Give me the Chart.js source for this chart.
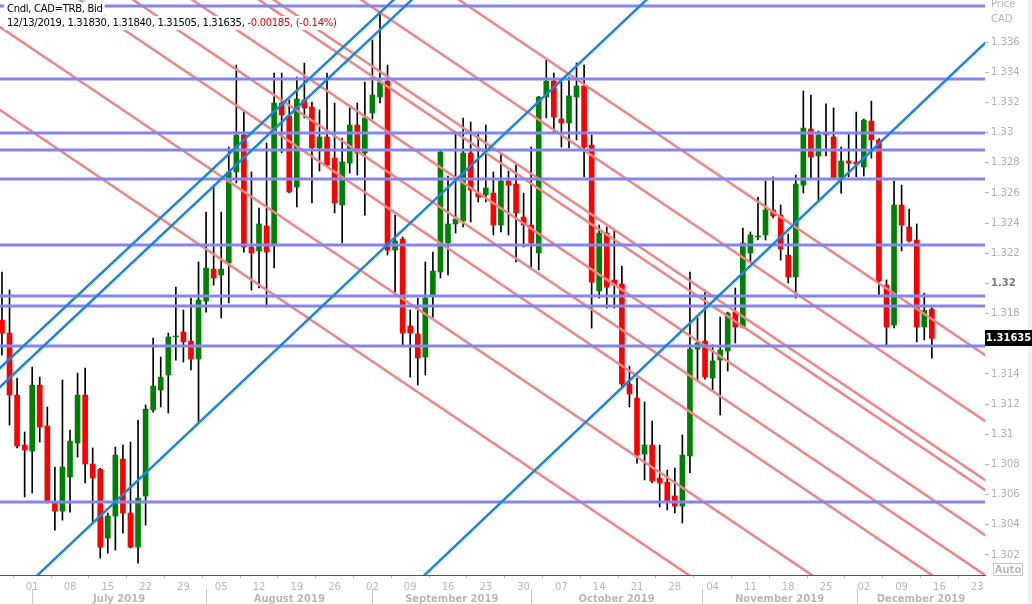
<!DOCTYPE html>
<html>
<head>
<meta charset="utf-8">
<script src="https://cdn.jsdelivr.net/npm/chart.js@4.4.1/dist/chart.umd.min.js"></script>
<style>
  html, body { margin: 0; padding: 0; background: #fff; }
  canvas { display: block; }
</style>
</head>
<body>
<canvas id="chart" width="1032" height="604"></canvas>
<script>
// daily candles, Jun 25 2019 .. Dec 13 2019 (trading days only, index 0 = Jun 25)
const opens = [
  1.31757, 1.31671, 1.31260, 1.30929, 1.30889, 1.31326, 1.31055, 1.30544, 1.30491, 1.30717,
  1.30942, 1.31260, 1.30803, 1.30769, 1.30312, 1.30458, 1.30836, 1.30478, 1.30252, 1.30591,
  1.31161, 1.31293, 1.31393, 1.31645, 1.31678, 1.31618, 1.31499, 1.31883, 1.32095, 1.32056,
  1.32135, 1.32739, 1.32984, 1.32241, 1.32215, 1.32381, 1.32261, 1.33196, 1.33110, 1.32639,
  1.33216, 1.33170, 1.32898, 1.32971, 1.32831, 1.32520, 1.32798, 1.33050, 1.32865, 1.33130,
  1.33236, 1.33342, 1.32221, 1.32294, 1.31718, 1.31665, 1.31512, 1.31923, 1.32076, 1.32268,
  1.32394, 1.32414, 1.32865, 1.32599, 1.32586, 1.32599, 1.32387, 1.32679, 1.32659, 1.32440,
  1.32387, 1.32202, 1.33236, 1.33342, 1.33090, 1.33064, 1.33236, 1.33309, 1.32918, 1.31950,
  1.32334, 1.32023, 1.31996, 1.31333, 1.31240, 1.30869, 1.30929, 1.30710, 1.30683, 1.30591,
  1.30524, 1.30856, 1.31565, 1.31618, 1.31373, 1.31492, 1.31552, 1.31810, 1.31711, 1.32202,
  1.32308, 1.32321, 1.32487, 1.32453, 1.32188, 1.32043, 1.32652, 1.33024, 1.32845, 1.32997,
  1.32971, 1.32699, 1.32812, 1.32805, 1.32772, 1.33077, 1.32951, 1.31989, 1.31724, 1.32520,
  1.32374, 1.32288, 1.31711, 1.31830
];
const highs = [
  1.32076, 1.31956, 1.31373, 1.31015, 1.31446, 1.31379, 1.31181, 1.30783, 1.31360, 1.31028,
  1.31406, 1.31439, 1.30909, 1.30775, 1.30478, 1.30915, 1.30929, 1.30948, 1.31094, 1.31194,
  1.31638, 1.31512, 1.31671, 1.31976, 1.31824, 1.31903, 1.32142, 1.32473, 1.32652, 1.32473,
  1.32904, 1.33448, 1.33136, 1.32739, 1.32500, 1.32931, 1.33395, 1.33395, 1.33216, 1.33368,
  1.33461, 1.33203, 1.33150, 1.33395, 1.33196, 1.32964, 1.33163, 1.33196, 1.33335, 1.33614,
  1.33783, 1.33448, 1.32453, 1.32308, 1.31824, 1.31903, 1.32142, 1.32208, 1.32880, 1.32712,
  1.32997, 1.33097, 1.33070, 1.33004, 1.33050, 1.32739, 1.32865, 1.32745, 1.32785, 1.32599,
  1.32904, 1.33240, 1.33481, 1.33395, 1.33335, 1.33368, 1.33461, 1.33448, 1.32984, 1.32387,
  1.32374, 1.32354, 1.32115, 1.31452, 1.31373, 1.31214, 1.31088, 1.30929, 1.30763, 1.30776,
  1.30995, 1.32076, 1.31771, 1.31956, 1.31592, 1.31777, 1.31810, 1.31970, 1.32367, 1.32341,
  1.32573, 1.32679, 1.32706, 1.32520, 1.32328, 1.32719, 1.33276, 1.33249, 1.33010, 1.33190,
  1.33163, 1.32904, 1.32991, 1.33136, 1.33090, 1.33209, 1.32960, 1.32023, 1.32679, 1.32652,
  1.32493, 1.32394, 1.31936, 1.31840
];
const lows = [
  1.31525, 1.31061, 1.30909, 1.30584, 1.30610, 1.30948, 1.30544, 1.30365, 1.30431, 1.30484,
  1.30849, 1.30677, 1.30412, 1.30179, 1.30212, 1.30232, 1.30345, 1.30246, 1.30146, 1.30398,
  1.31147, 1.31181, 1.31141, 1.31492, 1.31479, 1.31426, 1.31081, 1.31810, 1.31989, 1.31771,
  1.31870, 1.32666, 1.32208, 1.31956, 1.31970, 1.31844, 1.32102, 1.32865, 1.32600, 1.32507,
  1.33097, 1.32533, 1.32745, 1.32780, 1.32467, 1.32268, 1.32732, 1.32719, 1.32453, 1.33090,
  1.33196, 1.32188, 1.31943, 1.31592, 1.31379, 1.31326, 1.31393, 1.31777, 1.32036, 1.32056,
  1.32334, 1.32374, 1.32407, 1.32540, 1.32540, 1.32321, 1.32341, 1.32321, 1.32142, 1.32241,
  1.32109, 1.32089, 1.33097, 1.33004, 1.32904, 1.32898, 1.32951, 1.32706, 1.31704, 1.31903,
  1.31837, 1.31837, 1.31313, 1.31181, 1.30809, 1.30697, 1.30677, 1.30518, 1.30498, 1.30478,
  1.30412, 1.30743, 1.31360, 1.31366, 1.31293, 1.31128, 1.31419, 1.31605, 1.31705, 1.32142,
  1.32288, 1.32288, 1.32434, 1.32155, 1.32003, 1.31903, 1.32599, 1.32699, 1.32553, 1.32845,
  1.32690, 1.32599, 1.32706, 1.32706, 1.32712, 1.32831, 1.31923, 1.31592, 1.31705, 1.32215,
  1.32274, 1.31612, 1.31625, 1.31505
];
const closes = [
  1.31671, 1.31260, 1.30922, 1.30895, 1.31326, 1.31048, 1.30551, 1.30491, 1.30783, 1.30955,
  1.31260, 1.30803, 1.30710, 1.30252, 1.30458, 1.30862, 1.30478, 1.30252, 1.30577, 1.31167,
  1.31320, 1.31379, 1.31645, 1.31650, 1.31612, 1.31499, 1.31890, 1.32102, 1.32036, 1.32095,
  1.32739, 1.32984, 1.32241, 1.32202, 1.32394, 1.32208, 1.33196, 1.33117, 1.32606, 1.33223,
  1.33163, 1.32898, 1.32971, 1.32785, 1.32533, 1.32805, 1.33050, 1.32865, 1.33097, 1.33249,
  1.33335, 1.32221, 1.32281, 1.31671, 1.31671, 1.31506, 1.31903, 1.32082, 1.32871, 1.32394,
  1.32427, 1.32865, 1.32619, 1.32573, 1.32633, 1.32387, 1.32679, 1.32652, 1.32467, 1.32387,
  1.32268, 1.33236, 1.33342, 1.33103, 1.33064, 1.33243, 1.33309, 1.32904, 1.32009, 1.32334,
  1.31976, 1.31989, 1.31333, 1.31267, 1.30862, 1.30929, 1.30690, 1.30677, 1.30558, 1.30524,
  1.30862, 1.31565, 1.31605, 1.31379, 1.31486, 1.31559, 1.31804, 1.31711, 1.32268, 1.32321,
  1.32314, 1.32487, 1.32447, 1.32228, 1.32043, 1.32659, 1.33030, 1.32838, 1.32984, 1.32984,
  1.32699, 1.32812, 1.32798, 1.32792, 1.33083, 1.32951, 1.32016, 1.31711, 1.32520, 1.32387,
  1.32281, 1.31711, 1.31820, 1.31635
];
const lastDate = '12/13/2019';

// x axis: weekly (Monday) ticks and months
const xTickIdx = [4, 9, 14, 19, 24, 29, 34, 39, 44, 49, 54, 59, 64, 69, 74, 79, 84, 89, 94, 99, 104, 109, 114, 119, 124, 129];
const xTickLabels = ['01', '08', '15', '22', '29', '05', '12', '19', '26', '02', '09', '16', '23', '30', '07', '14', '21', '28', '04', '11', '18', '25', '02', '09', '16', '23'];
const monthStart = [4, 27, 49, 70, 92.6, 113.1];
const monthLabels = ['July 2019', 'August 2019', 'September 2019', 'October 2019', 'November 2019', 'December 2019'];

// y axis
const yTicks = [1.302, 1.304, 1.306, 1.308, 1.31, 1.312, 1.314, 1.316, 1.318, 1.32, 1.322, 1.324, 1.326, 1.328, 1.33, 1.332, 1.334, 1.336];
const yMin = 1.30067, yMax = 1.33879;
const xMin = -0.26, xMax = 130.03;

// drawn studies
const hLevels = [1.33839, 1.33355, 1.32997, 1.32884, 1.32692, 1.32255, 1.31917, 1.31850, 1.31585, 1.30551];
const redX = [-1, 131];
const redFrom = [1.33175, 1.33725, 1.34262, 1.34501, 1.34766, 1.35064, 1.35130, 1.35522, 1.35959];
const redTo = [1.28708, 1.29259, 1.29796, 1.30034, 1.30299, 1.30598, 1.30664, 1.31055, 1.31493];
const blueLines = [
  [-1, 1.31405, 60, 1.34264],
  [-1, 1.31279, 60, 1.34153],
  [0, 1.29843, 95, 1.34342],
  [50, 1.29786, 131, 1.33640]
];

const UP = '#008000', DOWN = '#ff0000';
const H_COLOR = '#8585ee', RED_COLOR = '#f08585', BLUE_COLOR = '#1c84e2';
const FONT = '"DejaVu Sans", Verdana, sans-serif';

const datasets = [];
blueLines.forEach(l => {
  datasets.push({
    type: 'line', data: [{x: l[0], y: l[1]}, {x: l[2], y: l[3]}],
    borderColor: BLUE_COLOR, borderWidth: 2.5, pointRadius: 0, clip: 0, order: 0
  });
});
hLevels.forEach(v => {
  datasets.push({
    type: 'line', data: [{x: xMin - 1, y: v}, {x: xMax + 1, y: v}],
    borderColor: H_COLOR, borderWidth: 3, pointRadius: 0, clip: 0, order: 1
  });
});
redFrom.forEach((v, i) => {
  datasets.push({
    type: 'line', data: [{x: redX[0], y: v}, {x: redX[1], y: redTo[i]}],
    borderColor: RED_COLOR, borderWidth: 2.5, pointRadius: 0, clip: 0, order: 2
  });
});
datasets.push({
  type: 'bar',
  data: opens.map((o, i) => ({x: i, y: [o, closes[i]]})),
  backgroundColor: opens.map((o, i) => closes[i] < o ? DOWN : UP),
  barThickness: 5, minBarLength: 1, grouped: false, order: 3
});
datasets.push({
  type: 'bar',
  data: lows.map((l, i) => ({x: i, y: [l, highs[i]]})),
  backgroundColor: '#000',
  barThickness: 1, grouped: false, order: 4
});

const overlay = {
  id: 'overlay',
  beforeDraw(chart) {
    const c = chart.ctx;
    c.save();
    c.fillStyle = '#fff';
    c.fillRect(0, 0, chart.width, chart.height);
    c.fillStyle = '#f0f0f0';
    c.fillRect(1028, 0, 4, chart.height);
    c.restore();
  },
  afterDraw(chart) {
    const c = chart.ctx;
    const xs = chart.scales.x, ys = chart.scales.y;
    const area = chart.chartArea;
    c.save();

    // header
    c.font = '10px ' + FONT;
    c.letterSpacing = '-0.3px';
    c.textBaseline = 'alphabetic';
    c.textAlign = 'left';
    const n = closes.length - 1;
    const chg = closes[n] - closes[n - 1];
    const pct = chg / closes[n - 1] * 100;
    const rows = [
      [['Cndl, CAD=TRB, Bid', '#000']],
      [[lastDate + ', ' + [opens[n], highs[n], lows[n], closes[n]].map(v => v.toFixed(5)).join(', ') + ', ', '#000'],
       [chg.toFixed(5) + ', (' + pct.toFixed(2) + '%)', '#e00000']]
    ];
    rows.forEach((parts, r) => {
      const base = 12 + r * 14;
      let w = 0;
      parts.forEach(p => { w += c.measureText(p[0]).width; });
      c.fillStyle = '#fff';
      c.fillRect(4, base - 10, w + 5, 14);
      let x = 7;
      parts.forEach(p => {
        c.fillStyle = p[1];
        c.fillText(p[0], x, base);
        x += c.measureText(p[0]).width;
      });
    });
    c.letterSpacing = '0px';

    // axis title
    c.fillStyle = '#b4b4b4';
    c.fillText('Price', 991, 7);
    c.fillText('CAD', 991, 22);

    // last price marker
    const py = ys.getPixelForValue(closes[n]);
    c.fillStyle = '#000';
    c.fillRect(area.right, Math.round(py) - 8, 47, 16);
    c.fillStyle = '#fff';
    c.font = 'bold 10px ' + FONT;
    c.textAlign = 'center';
    c.textBaseline = 'middle';
    c.fillText(closes[n].toFixed(5), area.right + 23.5, Math.round(py) + 0.5);

    // auto box
    c.strokeStyle = '#c8c8c8';
    c.lineWidth = 1;
    c.strokeRect(993.5, 563.5, 29, 12);
    c.fillStyle = '#b8b8b8';
    c.fillText('Auto', 1008, 570);

    // months
    const seps = monthStart.map(v => xs.getPixelForValue(v));
    c.strokeStyle = '#c8c8c8';
    seps.forEach(px => {
      c.beginPath();
      c.moveTo(Math.round(px) + 0.5, 589);
      c.lineTo(Math.round(px) + 0.5, 604);
      c.stroke();
    });
    c.fillStyle = '#b8b8b8';
    c.textBaseline = 'alphabetic';
    monthLabels.forEach((m, i) => {
      const a = seps[i], b = i + 1 < seps.length ? seps[i + 1] : area.right;
      c.fillText(m, (a + b) / 2, 602);
    });
    c.restore();
  }
};

new Chart(document.getElementById('chart'), {
  type: 'bar',
  data: { datasets },
  options: {
    responsive: false,
    animation: false,
    events: [],
    layout: { padding: 0, autoPadding: false },
    plugins: { legend: { display: false }, tooltip: { enabled: false } },
    scales: {
      x: {
        type: 'linear', min: xMin, max: xMax, offset: false,
        afterBuildTicks: s => { s.ticks = xTickIdx.map(v => ({value: v})); },
        afterFit: s => { s.height = 29; s.paddingLeft = 0; s.paddingRight = 0; },
        grid: { display: true, drawOnChartArea: false, drawTicks: true, tickLength: 3, color: '#c0c0c0' },
        border: { display: true, color: '#555', width: 1 },
        ticks: {
          autoSkip: false, maxRotation: 0, minRotation: 0, padding: 3,
          color: '#b8b8b8', font: { family: FONT, size: 10 },
          callback: v => xTickLabels[xTickIdx.indexOf(v)]
        }
      },
      y: {
        type: 'linear', position: 'right', min: yMin, max: yMax,
        afterBuildTicks: s => { s.ticks = yTicks.map(v => ({value: v})); },
        afterFit: s => { s.width = 47; s.paddingTop = 0; s.paddingBottom = 0; },
        grid: { display: true, drawOnChartArea: false, drawTicks: true, tickLength: 4, color: '#b8b8b8' },
        border: { display: false },
        ticks: {
          padding: 2,
          color: c => (c.tick && Math.abs(c.tick.value - 1.32) < 1e-9) ? '#7a7a7a' : '#b0b0b0',
          font: c => (c.tick && Math.abs(c.tick.value - 1.32) < 1e-9)
            ? { family: FONT, size: 10, weight: 'bold' } : { family: FONT, size: 10 },
          callback: v => String(parseFloat(v.toFixed(3)))
        }
      }
    }
  },
  plugins: [overlay]
});
</script>
</body>
</html>
